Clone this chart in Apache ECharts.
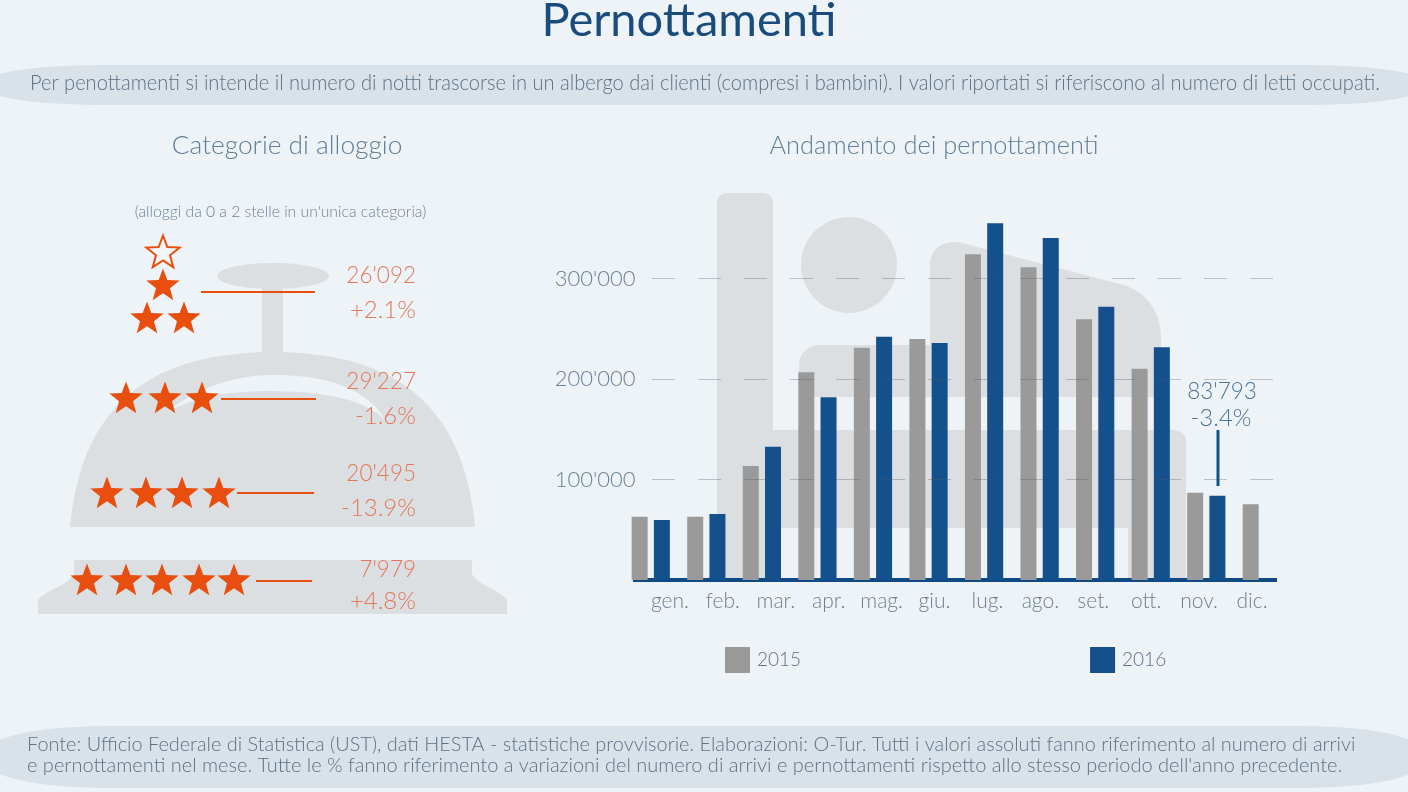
<!DOCTYPE html>
<html lang="it">
<head>
<meta charset="utf-8"/>
<title>Pernottamenti</title>
<style>
html,body{margin:0;padding:0;background:#eef3f7;overflow:hidden}
#chart{width:1408px;height:792px}
</style>
</head>
<body>
<div id="chart"></div>
<script src="https://cdn.jsdelivr.net/npm/echarts@6/dist/echarts.min.js"></script>
<script>
// dati
var months = ['gen.','feb.','mar.','apr.','mag.','giu.','lug.','ago.','set.','ott.','nov.','dic.'];
var values2015 = [63000,63000,113400,206700,231100,239800,324100,311100,259400,210300,86700,75300];
var values2016 = [59700,65700,132700,181800,242100,235800,354900,340300,271900,231500,83793,null];
var starCounts = [2,3,4,5];
var stayValues = ["26'092","29'227","20'495","7'979"];
var stayChanges = ['+2.1%','-1.6%','-13.9%','+4.8%'];
var lastValue = "83'793";
var lastChange = '-3.4%';

var THIN = 'Lato';
var PAGE = '#eef3f7', GREY_BG = '#dcdfe2', BAND = '#d9e2e9', ORANGE = '#e84e0e', BLUE = '#14508b', GREY = '#9a9a9a';

function bez(p0, c1, c2, p3) {
    var pts = [];
    for (var i = 0; i <= 24; i++) {
        var t = i / 24, u = 1 - t;
        pts.push([
            u*u*u*p0[0] + 3*u*u*t*c1[0] + 3*u*t*t*c2[0] + t*t*t*p3[0],
            u*u*u*p0[1] + 3*u*u*t*c1[1] + 3*u*t*t*c2[1] + t*t*t*p3[1]
        ]);
    }
    return pts;
}
function shape(points, fill, z) {
    return {type:'polygon', z:z||0, shape:{points:points}, style:{fill:fill}, silent:true};
}
function rect(x, y, w, h, r, fill) {
    return {type:'rect', z:0, shape:{x:x,y:y,width:w,height:h,r:r}, style:{fill:fill}, silent:true};
}
function star(cx, cy, r, hollow) {
    var pts = [];
    for (var i = 0; i < 10; i++) {
        var a = -Math.PI/2 + i*Math.PI/5, rr = i%2 ? r*0.42 : r;
        pts.push([cx + rr*Math.cos(a), cy + rr*Math.sin(a)]);
    }
    return {type:'polygon', z:1, shape:{points:pts}, silent:true,
        style: hollow ? {fill:'#f4f7f9', stroke:ORANGE, lineWidth:2} : {fill:ORANGE}};
}
function label(text, x, y, size, fill, align, scaleX, family, weight) {
    return {type:'text', z:5, x:x, y:y, scaleX:scaleX||1, silent:true, style:{
        text:text, fontSize:size, fontFamily:family||THIN, fontWeight:weight||300, fill:fill,
        align:align||'center', verticalAlign:'middle', textAlign:align||'center', textVerticalAlign:'middle'
    }};
}
function rule(x1, x2, y, w, color) {
    return {type:'line', z:1, shape:{x1:x1,y1:y,x2:x2,y2:y}, style:{stroke:color,lineWidth:w}, silent:true};
}

var g = [];

// fasce di testo
g.push(shape([].concat(
    bez([-30,85],[0,68],[50,65],[120,65]), bez([1290,65],[1360,65],[1410,68],[1438,85]),
    bez([1438,85],[1410,102],[1360,105],[1290,105]), bez([120,105],[50,105],[0,102],[-30,85])), BAND));
g.push(shape([].concat(
    bez([-30,757],[0,731],[50,726],[120,726]), bez([1290,726],[1360,726],[1410,731],[1438,757]),
    bez([1438,757],[1410,783],[1360,788],[1290,788]), bez([120,788],[50,788],[0,783],[-30,757])), BAND));

// campanello
g.push({type:'ellipse', z:0, shape:{cx:273,cy:276,rx:56,ry:13}, style:{fill:GREY_BG}, silent:true});
g.push(rect(262,285,21,72,0,GREY_BG));
g.push(shape([].concat(
    bez([70,527],[80,420],[135,352],[273,352]), bez([273,352],[411,352],[465,420],[475,527])), GREY_BG));
g.push(shape([].concat(
    bez([167,412],[200,385],[240,375],[273,375]), bez([273,375],[320,375],[365,385],[385,420]),
    bez([385,420],[365,400],[330,392],[273,391]), bez([273,391],[230,391],[200,395],[167,412])), PAGE));
g.push(shape([].concat(
    [[74,560],[472,560],[472,574]],
    bez([472,574],[478,585],[500,590],[507,600]),
    [[507,614],[38,614],[38,600]],
    bez([38,600],[46,590],[68,585],[74,574])), GREY_BG));

// letto
g.push(rect(717,193,56,386,[9,9,0,0],GREY_BG));
g.push({type:'circle', z:0, shape:{cx:849,cy:265,r:48}, style:{fill:GREY_BG}, silent:true});
g.push(rect(799,345,160,52,[20,0,0,0],GREY_BG));
g.push(shape([].concat(
    bez([930,345],[930,345],[930,270],[930,265]), bez([930,265],[930,245],[950,238],[966,244]),
    [[1120,284]], bez([1120,284],[1145,290],[1161,310],[1161,340]),
    [[1161,397],[930,397]]), GREY_BG));
g.push(rect(772,430,414,98,[0,12,0,0],GREY_BG));
g.push(rect(1128,500,58,79,0,GREY_BG));

// stelle categorie
g.push(star(163,253,17.5,true));
g.push(star(163,286,17.5));
g.push(star(147,319,17.5));
g.push(star(184,319,17.5));
var starX = {3:[126,165,202], 4:[107,146,182,219], 5:[87,126,162,199,234]};
var starY = {3:399, 4:494, 5:581};
starCounts.forEach(function (n) {
    if (starX[n]) starX[n].forEach(function (x) { g.push(star(x, starY[n], 17.5)); });
});
var ruleX = [[201,315,292],[221,316,399],[237,314,493],[256,312,581]];
var valueY = [[276,310],[382,416],[474,508],[570,601]];
stayValues.forEach(function (v, i) {
    g.push(rule(ruleX[i][0], ruleX[i][1], ruleX[i][2], 2.2, ORANGE));
    g.push(label(v, 416, valueY[i][0], 22.5, '#e2775a', 'right'));
    g.push(label(stayChanges[i], 416, valueY[i][1], 24, '#e2775a', 'right'));
});

// linea di base e richiamo novembre
g.push(rule(633,1277,580,4,'#0f4a85'));
g.push({type:'line', z:5, shape:{x1:1218,y1:430,x2:1218,y2:486}, style:{stroke:BLUE,lineWidth:3}, silent:true});
g.push(label(lastValue, 1222, 392, 22.5, '#4d7396'));
g.push(label(lastChange, 1221, 418, 24, '#4d7396'));

// testi
g.push(label('Pernottamenti', 689, 21, 47, '#194c7c', 'center', 1, 'Lato', 400));
g.push(label('Per penottamenti si intende il numero di notti trascorse in un albergo dai clienti (compresi i bambini). I valori riportati si riferiscono al numero di letti occupati.', 30, 83, 21, '#5b7184', 'left', 0.957));
g.push(label('Categorie di alloggio', 287, 146, 26.3, '#5f7d96'));
g.push(label('Andamento dei pernottamenti', 934, 146, 25.4, '#5f7d96'));
g.push(label("(alloggi da 0 a 2 stelle in un'unica categoria)", 280.5, 212, 15.7, '#6d8294'));
g.push(label('Fonte: Ufficio Federale di Statistica (UST), dati HESTA - statistiche provvisorie. Elaborazioni: O-Tur. Tutti i valori assoluti fanno riferimento al numero di arrivi', 27, 745, 20, '#5b7184', 'left', 0.995));
g.push(label("e pernottamenti nel mese. Tutte le % fanno riferimento a variazioni del numero di arrivi e pernottamenti rispetto allo stesso periodo dell'anno precedente.", 27, 766, 20, '#5b7184', 'left'));

var yMax = 360000;
var myChart = echarts.init(document.getElementById('chart'), null, {renderer:'canvas'});
var option = {
    animation:false,
    backgroundColor:PAGE,
    textStyle:{fontFamily:THIN},
    tooltip:{show:false},
    grid:[
        {left:623, width:666.6, top:218.2, height:361.8},
        {left:643.5, width:635, top:218.2, height:361.8}
    ],
    legend:{
        data:['2015','2016'], left:725, top:647, padding:0, itemWidth:25, itemHeight:26, itemGap:289, icon:'rect',
        textStyle:{fontFamily:THIN, fontWeight:300, fontSize:19, color:'#5b7184', padding:[0,0,0,2]}
    },
    xAxis:[
        {type:'category', gridIndex:0, data:months, axisLine:{show:false}, axisTick:{show:false}, axisLabel:{show:false}},
        {type:'category', gridIndex:1, data:months, axisLine:{show:false}, axisTick:{show:false},
            axisLabel:{interval:0, fontFamily:THIN, fontWeight:300, fontSize:21, color:'#6f8090', margin:11}}
    ],
    yAxis:[
        {type:'value', gridIndex:0, min:0, max:yMax, interval:100000, show:false, splitLine:{show:false}},
        {type:'value', gridIndex:1, min:0, max:yMax, interval:100000, z:3,
            axisLine:{show:false}, axisTick:{show:false},
            axisLabel:{fontFamily:THIN, fontWeight:300, fontSize:22, color:'#6a8197', margin:8,
                showMinLabel:false, showMaxLabel:false,
                formatter:function (v) { return String(v).replace(/(\d)(?=(\d{3})+$)/g, "$1'"); }},
            splitLine:{show:true, showMinLine:false, showMaxLine:false,
                lineStyle:{color:'rgba(80,90,100,0.33)', width:1, type:[23,23], dashOffset:37.5}}
        }
    ],
    series:[
        {name:'2015', type:'bar', xAxisIndex:0, yAxisIndex:0, data:values2015, barWidth:16, barGap:'39%', itemStyle:{color:GREY}},
        {name:'2016', type:'bar', xAxisIndex:0, yAxisIndex:0, data:values2016, barWidth:16, barGap:'39%', itemStyle:{color:BLUE}}
    ],
    graphic:{elements:g}
};
myChart.setOption(option);
</script>
</body>
</html>
